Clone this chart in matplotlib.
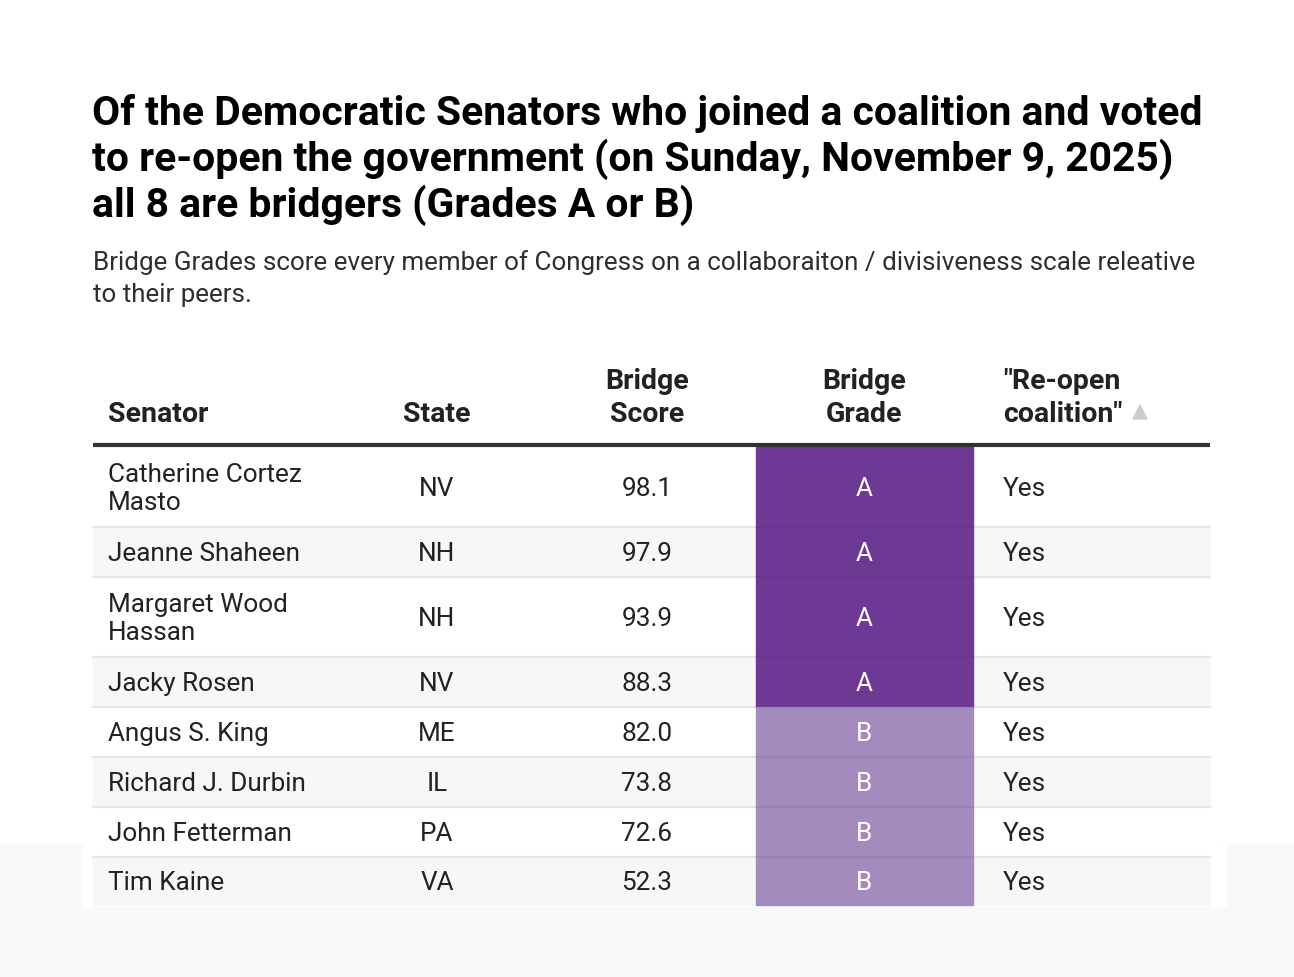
import matplotlib
matplotlib.use("Agg")
import matplotlib.pyplot as plt
from matplotlib.patches import Rectangle, Polygon

# ---- data ----
senators = ["Catherine Cortez\nMasto", "Jeanne Shaheen", "Margaret Wood\nHassan", "Jacky Rosen",
            "Angus S. King", "Richard J. Durbin", "John Fetterman", "Tim Kaine"]
states = ["NV", "NH", "NH", "NV", "ME", "IL", "PA", "VA"]
scores = [98.1, 97.9, 93.9, 88.3, 82.0, 73.8, 72.6, 52.3]
grades = ["A", "A", "A", "A", "B", "B", "B", "B"]
coalition = ["Yes"] * 8
headers = ["Senator", "State", "Bridge\nScore", "Bridge\nGrade", "\"Re-open\ncoalition\""]

title = ("Of the Democratic Senators who joined a coalition and voted\n"
         "to re-open the government (on Sunday, November 9, 2025)\n"
         "all 8 are bridgers (Grades A or B)")
subtitle = ("Bridge Grades score every member of Congress on a collaboraiton / divisiveness scale releative\n"
            "to their peers.")

grade_colors = {"A": "#6e3994", "B": "#a48bbd"}

W, H = 1294, 978
fig = plt.figure(figsize=(W / 100, H / 100), dpi=100)
ax = fig.add_axes([0, 0, 1, 1])
ax.set_xlim(0, W)
ax.set_ylim(H, 0)
ax.axis("off")
fig.patch.set_facecolor("white")

FONT = "Roboto"

# bottom gray background band
ax.add_patch(Rectangle((0, 845), W, H - 845, color="#f8f9fb", zorder=0))
ax.add_patch(Rectangle((83, 845), 1226 - 83, 907 - 845, color="white", zorder=0.5))

# title & subtitle
ax.text(92, 94, title, fontsize=29.4, fontweight="bold", family=FONT, va="top", ha="left",
        linespacing=1.16, color="#000000")
ax.text(93, 250, subtitle, fontsize=18.7, family=FONT, va="top", ha="left",
        linespacing=1.4, color="#2e2e2e")

# table geometry
x_left, x_right = 93, 1210
grade_x0, grade_x1 = 756, 973
col_x = [108, 437, 647, 864, 1003]
col_ha = ["left", "center", "center", "center", "left"]
row_h = [80, 50, 80, 50, 50, 50, 50, 48]
top = 448

# headers
for i, h in enumerate(headers):
    ax.text(col_x[i], 428, h, fontsize=20.5, fontweight="bold", family=FONT,
            ha=col_ha[i], va="bottom", linespacing=1.3, color="#222222")
ax.add_patch(Polygon([[1133, 420], [1147, 420], [1140, 406]], closed=True,
                     color="#cccccc", zorder=3))
ax.plot([x_left, x_right], [446, 446], color="#333333", lw=3, zorder=4, solid_capstyle="butt")

y = top
for r in range(len(senators)):
    h = row_h[r]
    bg = "white" if r % 2 == 0 else "#f7f7f7"
    ax.add_patch(Rectangle((x_left, y), x_right - x_left, h, color=bg, zorder=1))
    ax.add_patch(Rectangle((grade_x0, y), grade_x1 - grade_x0, h,
                           color=grade_colors[grades[r]], zorder=2))
    if r > 0:
        ax.plot([x_left, x_right], [y, y], color="#e6e6e6", lw=1.5, zorder=1.5)
        ax.plot([grade_x0, grade_x1], [y, y], color="#000000", alpha=0.05, lw=1.5, zorder=2.6)
    cy = y + h / 2
    vals = [senators[r], states[r], f"{scores[r]:.1f}", grades[r], coalition[r]]
    for i, v in enumerate(vals):
        ax.text(col_x[i], cy + 1, v, fontsize=18.8, family=FONT, ha=col_ha[i], va="center",
                linespacing=1.25, color="white" if i == 3 else "#222222", zorder=3)
    y += h

fig.savefig("out.png", dpi=100, facecolor="white")
